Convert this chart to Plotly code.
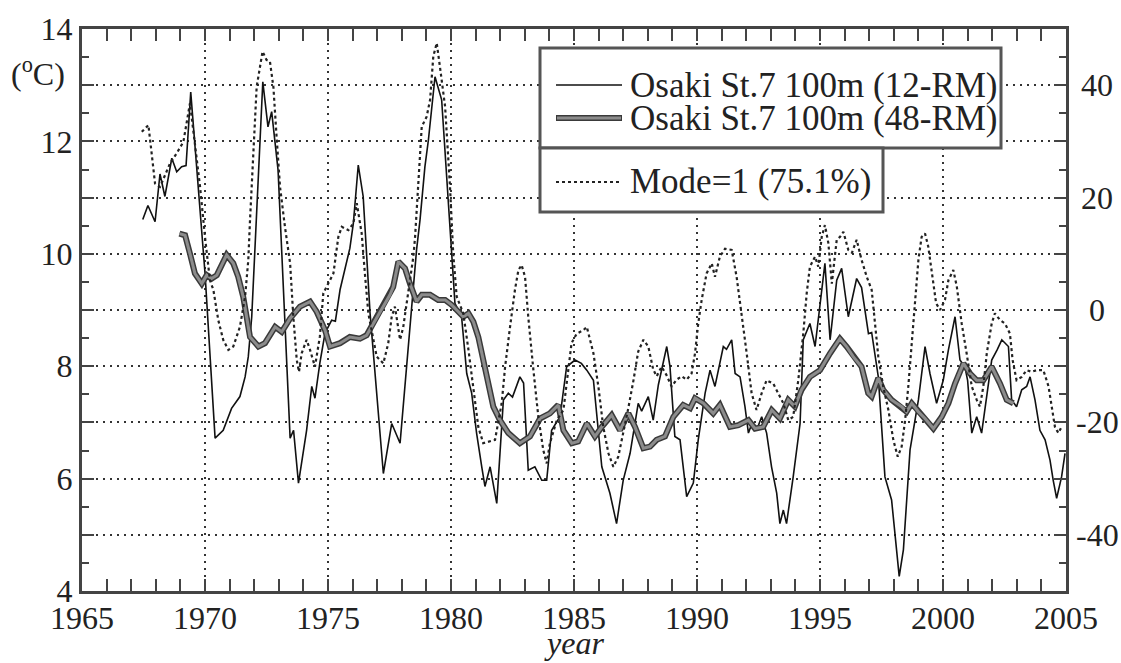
import plotly.graph_objects as go

# ---- 12-month running mean (thin black) ----
rm12_year = [1967.47, 1967.68, 1967.97, 1968.17, 1968.37, 1968.65, 1968.85, 1969.05, 1969.23, 1969.42,
             1970.0, 1970.41, 1970.74, 1971.08, 1971.42, 1971.63, 1971.76, 1971.9, 1972.35, 1972.56,
             1972.71, 1972.97, 1973.46, 1973.6, 1973.8, 1974.13, 1974.34, 1974.47, 1974.67, 1974.88,
             1975.15, 1975.3, 1975.49, 1975.89, 1976.03, 1976.23, 1976.43, 1976.71, 1977.25, 1977.59,
             1977.93, 1978.27, 1978.6, 1978.74, 1978.94, 1979.08, 1979.35, 1979.62, 1979.89, 1980.16,
             1980.43, 1980.64, 1980.84, 1981.04, 1981.25, 1981.38, 1981.59, 1981.86, 1982.13, 1982.33,
             1982.5, 1982.8, 1982.95, 1983.14, 1983.41, 1983.69, 1983.89, 1984.09, 1984.43, 1984.7,
             1985.04, 1985.3, 1985.52, 1985.79, 1986.13, 1986.46, 1986.73, 1987.0, 1987.28, 1987.61,
             1987.75, 1988.02, 1988.22, 1988.43, 1988.77, 1988.9, 1989.1, 1989.31, 1989.58, 1989.85,
             1990.05, 1990.33, 1990.53, 1990.73, 1991.07, 1991.2, 1991.41, 1991.55, 1991.75, 1991.95,
             1992.09, 1992.25, 1992.42, 1992.63, 1992.83, 1993.03, 1993.24, 1993.37, 1993.51, 1993.64,
             1993.91, 1994.19, 1994.32, 1994.59, 1994.8, 1995.2, 1995.41, 1995.68, 1995.88, 1996.15,
             1996.49, 1996.69, 1996.97, 1997.1, 1997.37, 1997.64, 1997.91, 1998.11, 1998.22, 1998.39,
             1998.66, 1999.0, 1999.27, 1999.47, 1999.74, 2000.01, 2000.22, 2000.49, 2000.69, 2000.89,
             2001.0, 2001.17, 2001.37, 2001.57, 2001.78, 2001.98, 2002.2, 2002.39, 2002.66, 2002.79,
             2002.99, 2003.2, 2003.4, 2003.54, 2003.74, 2003.94, 2004.15, 2004.35, 2004.48, 2004.62,
             2004.82, 2004.96]
rm12_temp = [10.61, 10.86, 10.57, 11.42, 11.02, 11.70, 11.46, 11.55, 11.57, 12.88,
             9.66, 6.72, 6.86, 7.25, 7.46, 7.81, 8.17, 8.88, 13.06, 12.26,
             12.53, 11.49, 6.72, 6.86, 5.92, 6.86, 7.64, 7.43, 8.06, 8.59,
             8.82, 8.80, 9.36, 10.10, 10.54, 11.58, 11.02, 8.94, 6.09, 6.98,
             6.63, 8.35, 10.07, 10.60, 11.55, 12.02, 13.15, 12.74, 10.90, 9.12,
             8.88, 7.87, 7.52, 6.81, 6.21, 5.86, 6.21, 5.56, 7.40, 7.52,
             7.45, 7.81, 7.70, 6.15, 6.21, 5.97, 5.97, 6.86, 7.10, 7.99,
             8.11, 8.05, 7.93, 7.75, 6.21, 5.74, 5.20, 5.97, 6.45, 7.34,
             7.20, 7.46, 7.04, 7.67, 8.35, 8.00, 6.75, 6.69, 5.68, 5.92,
             6.69, 7.52, 7.93, 7.64, 8.35, 8.30, 8.47, 7.87, 7.81, 7.28,
             6.81, 7.00, 6.86, 7.10, 6.81, 6.21, 5.74, 5.20, 5.44, 5.20,
             6.03, 6.98, 8.47, 8.76, 8.35, 9.83, 8.47, 9.53, 9.74, 8.88,
             9.56, 9.40, 8.58, 8.60, 7.81, 6.03, 5.62, 4.73, 4.26, 4.73,
             6.51, 7.40, 8.35, 7.87, 7.34, 7.75, 8.29, 8.88, 8.11, 7.99,
             7.75, 6.81, 7.10, 6.81, 7.52, 8.11, 8.29, 8.47, 8.35, 7.40,
             7.28, 7.58, 7.64, 7.81, 7.40, 6.86, 6.69, 6.33, 5.97, 5.65,
             6.03, 6.45]

# ---- 48-month running mean (thick grey) ----
rm48_year = [1968.96, 1969.19, 1969.39, 1969.59, 1969.87, 1970.07, 1970.27, 1970.48, 1970.88, 1971.15,
             1971.35, 1971.56, 1971.83, 1972.17, 1972.44, 1972.85, 1973.12, 1973.46, 1973.86, 1974.27,
             1974.54, 1974.88, 1975.08, 1975.49, 1975.89, 1976.3, 1976.57, 1976.84, 1977.18, 1977.52,
             1977.65, 1977.86, 1978.13, 1978.33, 1978.6, 1978.81, 1979.15, 1979.48, 1979.76, 1980.03,
             1980.3, 1980.5, 1980.71, 1980.91, 1981.11, 1981.31, 1981.52, 1981.72, 1981.99, 1982.33,
             1982.8, 1983.21, 1983.62, 1984.02, 1984.36, 1984.57, 1984.91, 1985.17, 1985.52, 1985.85,
             1986.13, 1986.53, 1986.87, 1987.21, 1987.48, 1987.82, 1988.09, 1988.36, 1988.7, 1989.04,
             1989.44, 1989.72, 1989.92, 1990.26, 1990.66, 1990.93, 1991.34, 1991.68, 1992.09, 1992.36,
             1992.69, 1993.04, 1993.37, 1993.71, 1993.98, 1994.25, 1994.59, 1995.0, 1995.41, 1995.81,
             1996.08, 1996.35, 1996.69, 1996.96, 1997.1, 1997.37, 1997.57, 1997.91, 1998.32, 1998.52,
             1998.73, 1999.0, 1999.27, 1999.61, 1999.95, 2000.22, 2000.49, 2000.83, 2001.1, 2001.37,
             2001.64, 2001.98, 2002.32, 2002.59, 2002.86]
rm48_temp = [10.36, 10.33, 10.00, 9.65, 9.47, 9.62, 9.56, 9.62, 9.98, 9.83,
             9.59, 9.22, 8.52, 8.35, 8.41, 8.70, 8.61, 8.85, 9.06, 9.15,
             8.97, 8.64, 8.35, 8.41, 8.52, 8.49, 8.55, 8.76, 9.03, 9.27,
             9.41, 9.86, 9.74, 9.47, 9.15, 9.27, 9.27, 9.18, 9.18, 9.09,
             8.97, 8.88, 8.94, 8.79, 8.52, 8.11, 7.69, 7.28, 7.04, 6.81,
             6.63, 6.75, 7.07, 7.16, 7.31, 6.86, 6.63, 6.66, 6.98, 6.75,
             6.92, 7.13, 6.86, 7.16, 6.92, 6.54, 6.57, 6.69, 6.75, 7.10,
             7.31, 7.25, 7.43, 7.34, 7.16, 7.31, 6.92, 6.95, 7.04, 6.89,
             6.92, 7.22, 7.07, 7.40, 7.28, 7.58, 7.81, 7.93, 8.23, 8.49,
             8.35, 8.17, 7.99, 7.52, 7.46, 7.79, 7.58, 7.40, 7.28, 7.19,
             7.34, 7.19, 7.07, 6.89, 7.10, 7.34, 7.69, 8.05, 7.87, 7.75,
             7.75, 7.99, 7.69, 7.40, 7.34]

# ---- EOF Mode 1 amplitude (dotted, right axis) ----
mode1_year = [1967.43, 1967.7, 1967.83, 1967.97, 1968.17, 1968.58, 1968.85, 1969.12, 1969.39, 1969.59,
              1969.8, 1970.0, 1970.2, 1970.34, 1970.54, 1970.74, 1970.95, 1971.15, 1971.42, 1971.63,
              1971.76, 1971.83, 1971.96, 1972.1, 1972.34, 1972.5, 1972.64, 1972.78, 1972.91, 1973.05,
              1973.25, 1973.46, 1973.59, 1973.73, 1973.82, 1973.93, 1974.13, 1974.27, 1974.47, 1974.67,
              1974.81, 1975.01, 1975.22, 1975.42, 1975.56, 1975.83, 1976.03, 1976.17, 1976.37, 1976.5,
              1976.64, 1976.98, 1977.25, 1977.45, 1977.59, 1977.72, 1977.93, 1978.06, 1978.27, 1978.47,
              1978.54, 1978.67, 1978.81, 1979.01, 1979.15, 1979.28, 1979.42, 1979.55, 1979.76, 1979.96,
              1980.09, 1980.23, 1980.5, 1980.71, 1980.91, 1981.11, 1981.31, 1981.59, 1981.79, 1982.06,
              1982.2, 1982.4, 1982.6, 1982.74, 1982.87, 1983.01, 1983.14, 1983.35, 1983.55, 1983.75,
              1983.89, 1984.02, 1984.3, 1984.57, 1984.77, 1984.9, 1985.11, 1985.38, 1985.52, 1985.79,
              1985.99, 1986.19, 1986.4, 1986.6, 1986.8, 1987.0, 1987.21, 1987.41, 1987.61, 1987.82,
              1988.02, 1988.22, 1988.36, 1988.56, 1988.75, 1988.97, 1989.17, 1989.38, 1989.58, 1989.78,
              1989.92, 1990.05, 1990.19, 1990.39, 1990.6, 1990.73, 1990.93, 1991.14, 1991.41, 1991.61,
              1991.82, 1992.02, 1992.22, 1992.42, 1992.63, 1992.83, 1993.1, 1993.3, 1993.51, 1993.71,
              1993.91, 1994.12, 1994.32, 1994.46, 1994.59, 1994.8, 1994.93, 1995.07, 1995.2, 1995.34,
              1995.48, 1995.68, 1995.81, 1995.95, 1996.15, 1996.3, 1996.49, 1996.69, 1996.9, 1997.1,
              1997.24, 1997.37, 1997.57, 1997.78, 1997.98, 1998.16, 1998.32, 1998.46, 1998.59, 1998.73,
              1998.86, 1999.0, 1999.13, 1999.27, 1999.4, 1999.54, 1999.72, 1999.88, 2000.08, 2000.22,
              2000.42, 2000.56, 2000.76, 2000.96, 2001.17, 2001.37, 2001.5, 2001.64, 2001.78, 2001.98,
              2002.11, 2002.32, 2002.52, 2002.72, 2002.83, 2002.99, 2003.2, 2003.4, 2003.6, 2003.81,
              2004.08, 2004.29, 2004.42, 2004.55, 2004.69, 2004.82]
mode1_amp = [31.7, 32.9, 27.9, 22.5, 21.9, 26.1, 27.9, 29.9, 36.8, 29.5,
             21.9, 13.0, 5.3, 3.6, -1.8, -5.3, -7.1, -6.5, -3.0, 2.4,
             8.9, 16.0, 27.9, 39.7, 46.0, 44.5, 44.2, 39.7, 30.8, 21.9,
             14.8, 8.3, -1.2, -8.9, -11.0, -7.7, -5.3, -7.1, -10.1, -4.7,
             3.0, 4.7, 6.5, 13.0, 14.8, 14.2, 15.4, 19.0, 13.6, 6.5,
             -0.6, -8.3, -9.5, -5.9, -1.2, 0.6, -5.3, -3.0, 3.0, 9.5,
             13.0, 23.1, 32.6, 34.4, 37.4, 45.1, 47.5, 43.3, 36.2, 21.9,
             10.1, 2.4, -0.6, -7.1, -14.2, -20.8, -23.7, -23.4, -23.1, -16.6,
             -10.1, -3.0, 3.6, 7.1, 8.0, 5.9, -1.2, -10.7, -19.0, -24.9,
             -27.3, -23.7, -19.6, -17.8, -10.1, -5.9, -4.2, -3.6, -3.0, -7.7,
             -13.6, -20.8, -25.5, -27.9, -26.1, -22.1, -17.4, -12.7, -7.4, -5.3,
             -6.5, -10.6, -11.8, -10.1, -11.5, -13.6, -12.4, -11.8, -12.4, -11.3,
             -7.7, -2.4, 1.8, 6.5, 8.3, 5.9, 9.5, 10.9, 10.7, 5.9,
             -0.6, -7.7, -14.8, -17.8, -14.8, -12.5, -13.1, -14.8, -16.6, -19.6,
             -19.0, -12.4, -4.2, 3.0, 7.7, 9.5, 7.7, 13.0, 15.1, 11.9,
             4.7, 12.5, 13.0, 13.9, 10.7, 10.2, 12.5, 8.9, 5.9, 3.6,
             -3.0, -8.3, -13.6, -17.8, -23.1, -26.1, -24.3, -19.6, -13.6, -5.3,
             1.8, 8.9, 13.0, 13.6, 11.3, 6.5, 1.2, 0.0, 1.8, 5.3,
             7.1, 4.2, -2.4, -7.7, -13.6, -16.0, -17.2, -13.6, -7.7, -2.4,
             -0.6, -1.8, -2.4, -4.2, -8.9, -12.5, -11.9, -10.7, -11.0, -10.7,
             -10.7, -13.6, -17.2, -20.8, -21.9, -20.8]

x_ticks = [1965, 1970, 1975, 1980, 1985, 1990, 1995, 2000, 2005]
y_left_ticks = [4, 5, 6, 7, 8, 9, 10, 11, 12, 13, 14]
y_left_text = ["4", "", "6", "", "8", "", "10", "", "12", "", "14"]
y_right_ticks = [-50, -40, -30, -20, -10, 0, 10, 20, 30, 40, 50]
y_right_labels = [-40, -20, 0, 20, 40]

legend_labels = ["Osaki St.7 100m (12-RM)", "Osaki St.7 100m (48-RM)", "Mode=1 (75.1%)"]

FONT = "'Liberation Serif', 'Times New Roman', Times, 'DejaVu Serif', serif"
AX = "#444444"
TXT = "#222222"
GRID = "#333333"
GRIDDASH = "2px,5px"
W, H = 1121, 663
L, R, T, B = 82, 55, 29, 72

fig = go.Figure()
fig.add_trace(go.Scatter(x=mode1_year, y=mode1_amp, yaxis="y2", mode="lines",
                         line=dict(color="#222222", width=2.2, dash="3px,3px"), showlegend=False))
fig.add_trace(go.Scatter(x=rm12_year, y=rm12_temp, mode="lines",
                         line=dict(color="#111111", width=1.6), showlegend=False))
fig.add_trace(go.Scatter(x=rm48_year, y=rm48_temp, mode="lines",
                         line=dict(color="#3a3a3a", width=6), showlegend=False))
fig.add_trace(go.Scatter(x=rm48_year, y=rm48_temp, mode="lines",
                         line=dict(color="#8c8c8c", width=3), showlegend=False))

tickfont = dict(family=FONT, size=32, color=TXT)
fig.update_layout(
    width=W, height=H,
    margin=dict(l=L, r=R, t=T, b=B, autoexpand=False),
    paper_bgcolor="white", plot_bgcolor="white",
    font=dict(family=FONT, color=TXT),
    xaxis=dict(range=[1965, 2005], tickmode="array", tickvals=x_ticks,
               ticks="inside", ticklen=12, tickwidth=2, tickcolor=AX,
               minor=dict(dtick=1, tick0=1965, ticks="inside", ticklen=7, tickwidth=2, tickcolor=AX, showgrid=False),
               showline=True, linewidth=3, linecolor=AX, mirror="allticks",
               showgrid=True, gridcolor=GRID, gridwidth=1.5, griddash=GRIDDASH,
               zeroline=False, tickfont=tickfont, ticklabelstandoff=-3),
    yaxis=dict(range=[4, 14], tickmode="array", tickvals=y_left_ticks, ticktext=y_left_text,
               ticks="inside", ticklen=12, tickwidth=2, tickcolor=AX,
               minor=dict(dtick=0.5, tick0=4, ticks="inside", ticklen=7, tickwidth=2, tickcolor=AX, showgrid=False),
               showline=True, linewidth=3, linecolor=AX, mirror=True,
               showgrid=True, gridcolor=GRID, gridwidth=1.5, griddash=GRIDDASH,
               zeroline=False, tickfont=tickfont),
    yaxis2=dict(range=[-50, 50], overlaying="y", side="right", tickmode="array",
                tickvals=y_right_ticks, showticklabels=False,
                ticks="inside", ticklen=12, tickwidth=2, tickcolor=AX,
                minor=dict(dtick=5, tick0=-50, ticks="inside", ticklen=7, tickwidth=2, tickcolor=AX, showgrid=False),
                showline=True, linewidth=3, linecolor=AX, showgrid=False, zeroline=False),
)

pw, ph = W - L - R, H - T - B
def px(xp):
    return (xp - L) / pw
def py(yp):
    return (H - B - yp) / ph

# right-axis labels (centred, as in the original)
for v in y_right_labels:
    fig.add_annotation(xref="paper", yref="y2", x=px(1097), y=v, text=str(v), showarrow=False,
                       xanchor="center", yanchor="middle", font=tickfont)

# legend boxes
fig.add_shape(type="rect", xref="paper", yref="paper", x0=px(540), x1=px(1001), y0=py(148), y1=py(48),
              line=dict(color="#555555", width=3), fillcolor="white", layer="above")
fig.add_shape(type="rect", xref="paper", yref="paper", x0=px(540), x1=px(883), y0=py(212), y1=py(148),
              line=dict(color="#555555", width=3), fillcolor="white", layer="above")
# legend samples
fig.add_shape(type="line", xref="paper", yref="paper", x0=px(556), x1=px(622), y0=py(85), y1=py(85),
              line=dict(color="#111111", width=1.6), layer="above")
fig.add_shape(type="line", xref="paper", yref="paper", x0=px(556), x1=px(622), y0=py(118), y1=py(118),
              line=dict(color="#3a3a3a", width=6), layer="above")
fig.add_shape(type="line", xref="paper", yref="paper", x0=px(557), x1=px(621), y0=py(118), y1=py(118),
              line=dict(color="#8c8c8c", width=3), layer="above")
fig.add_shape(type="line", xref="paper", yref="paper", x0=px(556), x1=px(622), y0=py(182), y1=py(182),
              line=dict(color="#222222", width=2.2, dash="3px,3px"), layer="above")

legfont = dict(family=FONT, size=35, color=TXT)
for lab, yy in zip(legend_labels, [85, 118, 182]):
    fig.add_annotation(xref="paper", yref="paper", x=px(628), y=py(yy), text=lab, showarrow=False,
                       xanchor="left", yanchor="middle", font=legfont)

fig.add_annotation(xref="paper", yref="paper", x=px(38), y=py(72), text="(<sup>o</sup>C)", showarrow=False,
                   xanchor="center", yanchor="middle", font=dict(family=FONT, size=32, color=TXT))
fig.add_annotation(xref="paper", yref="paper", x=px(574), y=py(643), text="<i>year</i>", showarrow=False,
                   xanchor="center", yanchor="middle", font=dict(family=FONT, size=32, color=TXT))

fig.write_html("out.html")
